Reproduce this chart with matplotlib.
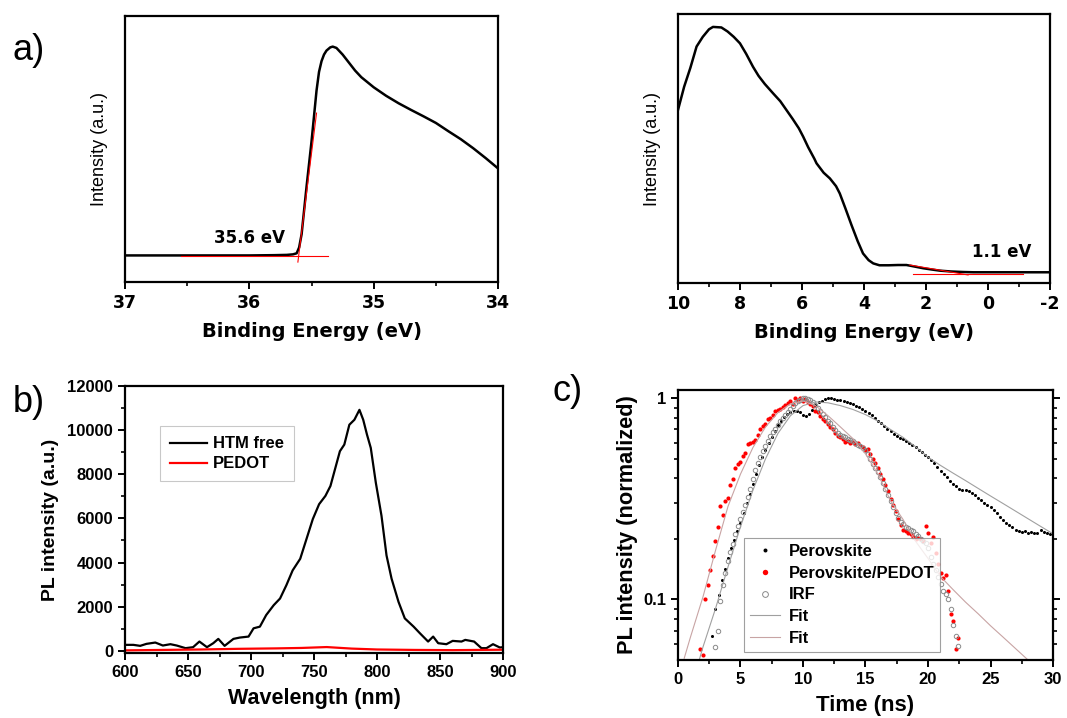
import numpy as np
import matplotlib.pyplot as plt
from matplotlib.ticker import MultipleLocator, FixedLocator, NullFormatter, FixedFormatter

plt.rcParams["axes.unicode_minus"] = False

# a) links: cut-off de electrones secundarios
be_cut = np.array([37.0, 36.5, 36.0, 35.8, 35.7, 35.65, 35.62, 35.6, 35.58, 35.56,
                   35.54, 35.52, 35.5, 35.48, 35.46, 35.44, 35.42, 35.4, 35.38, 35.35,
                   35.33, 35.3, 35.25, 35.2, 35.15, 35.1, 35.0, 34.9, 34.8, 34.7,
                   34.6, 34.5, 34.4, 34.3, 34.2, 34.1, 34.0])
int_cut = np.array([0.100, 0.100, 0.100, 0.101, 0.102, 0.104, 0.108, 0.130, 0.180, 0.270,
                    0.360, 0.445, 0.530, 0.625, 0.720, 0.790, 0.830, 0.855, 0.870, 0.882,
                    0.885, 0.880, 0.855, 0.825, 0.795, 0.770, 0.732, 0.700, 0.672, 0.647,
                    0.623, 0.598, 0.567, 0.537, 0.503, 0.466, 0.427])
cut_base_x = [36.55, 35.37]
cut_base_y = [0.097, 0.097]
cut_edge_x = [35.61, 35.46]
cut_edge_y = [0.075, 0.635]

# a) rechts: valence band
be_vb = np.array([10.0, 9.8, 9.6, 9.4, 9.2, 9.0, 8.87, 8.6, 8.4, 8.2,
                  8.0, 7.8, 7.58, 7.4, 7.2, 6.93, 6.7, 6.5, 6.3, 6.1,
                  5.96, 5.8, 5.6, 5.53, 5.3, 5.1, 4.9, 4.78, 4.6, 4.4,
                  4.2, 4.03, 3.85, 3.7, 3.5, 3.2, 2.9, 2.63, 2.4, 2.09,
                  1.8, 1.55, 1.2, 0.8, 0.47, 0.0, -1.0, -2.0])
int_vb = np.array([0.643, 0.730, 0.800, 0.879, 0.915, 0.943, 0.952, 0.950, 0.935, 0.915,
                   0.891, 0.852, 0.804, 0.770, 0.740, 0.705, 0.676, 0.643, 0.610, 0.575,
                   0.544, 0.505, 0.462, 0.445, 0.410, 0.389, 0.360, 0.333, 0.278, 0.215,
                   0.155, 0.110, 0.085, 0.073, 0.066, 0.066, 0.067, 0.067, 0.062, 0.055,
                   0.050, 0.046, 0.043, 0.041, 0.040, 0.040, 0.040, 0.040])
vb_base_x = [2.41, -1.14]
vb_base_y = [0.033, 0.033]
vb_edge_x = [2.52, 0.64]
vb_edge_y = [0.067, 0.030]

# b) PL spectra
wl = np.array([600, 606.6, 612, 617, 624, 630, 636, 641, 648, 654,
               659, 665, 670, 674, 679, 686, 691, 698, 702, 707,
               712, 718, 723, 728, 733, 739, 744, 749, 754, 759,
               763, 768, 770.5, 774, 778, 782, 786, 789, 792, 795,
               799, 803.5, 807.5, 811.5, 817, 822, 829, 834, 840.5, 844.5,
               848.5, 855, 860, 867, 870, 877, 882.8, 886.8, 892, 897.4, 900])
pl_htm = np.array([270, 270, 225, 315, 375, 240, 300, 240, 120, 165,
                   420, 165, 345, 540, 225, 540, 600, 645, 1020, 1095,
                   1620, 2070, 2370, 2970, 3645, 4170, 5070, 5970, 6645, 7020,
                   7470, 8520, 9045, 9345, 10245, 10470, 10920, 10470, 9795, 9195,
                   7620, 6120, 4320, 3270, 2220, 1470, 1095, 795, 420, 645,
                   345, 300, 450, 420, 495, 420, 120, 120, 300, 150, 165])
wl_pedot = np.array([600, 630, 660, 690, 720, 740, 760, 780, 800, 830, 860, 900])
pl_pedot = np.array([20, 40, 60, 90, 110, 130, 170, 100, 60, 40, 30, 50])

# c) TRPL (Zeitkanäle)
t_pero = np.arange(2.75, 30.01, 0.25)
y_pero = np.array([0.066, 0.090, 0.105, 0.125, 0.142, 0.160, 0.180, 0.198, 0.218, 0.240,
                   0.268, 0.300, 0.335, 0.375, 0.420, 0.465, 0.510, 0.555, 0.600, 0.645,
                   0.690, 0.735, 0.775, 0.810, 0.840, 0.860, 0.868, 0.865, 0.855, 0.830,
                   0.820, 0.835, 0.880, 0.925, 0.955, 0.975, 0.990, 1.000, 1.000, 0.995,
                   0.985, 0.980, 0.970, 0.960, 0.948, 0.935, 0.920, 0.905, 0.885, 0.870,
                   0.850, 0.825, 0.800, 0.775, 0.750, 0.725, 0.705, 0.685, 0.665, 0.650,
                   0.635, 0.625, 0.615, 0.600, 0.585, 0.570, 0.555, 0.540, 0.525, 0.510,
                   0.495, 0.478, 0.455, 0.435, 0.420, 0.405, 0.390, 0.377, 0.365, 0.356,
                   0.352, 0.350, 0.345, 0.340, 0.330, 0.320, 0.312, 0.303, 0.295, 0.288,
                   0.280, 0.270, 0.258, 0.248, 0.240, 0.235, 0.228, 0.222, 0.218, 0.216,
                   0.218, 0.215, 0.217, 0.214, 0.213, 0.222, 0.217, 0.214, 0.212, 0.208])

t_pedot = np.arange(1.8, 22.41, 0.2)
y_pedot = np.array([0.057, 0.053, 0.100, 0.118, 0.140, 0.165, 0.195, 0.228, 0.290, 0.262,
                    0.310, 0.318, 0.370, 0.395, 0.450, 0.470, 0.485, 0.515, 0.535, 0.590,
                    0.600, 0.610, 0.618, 0.660, 0.700, 0.730, 0.745, 0.790, 0.800, 0.830,
                    0.868, 0.875, 0.890, 0.905, 0.930, 0.950, 0.965, 0.940, 1.000, 0.985,
                    1.000, 0.975, 0.990, 0.955, 0.935, 0.920, 0.870, 0.860, 0.820, 0.790,
                    0.770, 0.745, 0.720, 0.700, 0.670, 0.650, 0.640, 0.625, 0.610, 0.612,
                    0.600, 0.605, 0.595, 0.600, 0.580, 0.570, 0.555, 0.560, 0.530, 0.500,
                    0.475, 0.450, 0.420, 0.395, 0.370, 0.345, 0.315, 0.295, 0.275, 0.250,
                    0.235, 0.222, 0.218, 0.215, 0.212, 0.205, 0.200, 0.203, 0.200, 0.196,
                    0.232, 0.215, 0.190, 0.205, 0.170, 0.150, 0.135, 0.128, 0.132, 0.110,
                    0.085, 0.078, 0.057, 0.064])

t_irf = np.arange(3.0, 22.41, 0.2)
y_irf = np.array([0.058, 0.070, 0.098, 0.118, 0.135, 0.155, 0.172, 0.188, 0.212, 0.232,
                  0.250, 0.272, 0.295, 0.325, 0.355, 0.395, 0.440, 0.475, 0.510, 0.545,
                  0.578, 0.615, 0.650, 0.680, 0.705, 0.735, 0.770, 0.800, 0.830, 0.860,
                  0.890, 0.915, 0.945, 0.965, 0.985, 1.000, 1.000, 0.995, 0.985, 0.955,
                  0.925, 0.900, 0.865, 0.835, 0.805, 0.775, 0.750, 0.720, 0.695, 0.675,
                  0.660, 0.650, 0.640, 0.630, 0.620, 0.612, 0.600, 0.588, 0.578, 0.565,
                  0.552, 0.530, 0.500, 0.472, 0.450, 0.428, 0.405, 0.380, 0.355, 0.330,
                  0.308, 0.288, 0.270, 0.255, 0.243, 0.236, 0.230, 0.226, 0.222, 0.218,
                  0.212, 0.206, 0.200, 0.195, 0.190, 0.180, 0.163, 0.150, 0.140, 0.130,
                  0.120, 0.110, 0.106, 0.100, 0.090, 0.075, 0.066, 0.059])

t_fit1 = np.array([1.7, 2, 3, 4, 5, 6, 7, 8, 9, 10, 11, 12, 13, 14, 15, 16, 17, 18,
                   19, 20, 21, 22, 23, 24, 25, 26, 27, 28, 29, 30])
y_fit1 = np.array([0.050, 0.058, 0.090, 0.145, 0.230, 0.350, 0.500, 0.670, 0.820, 0.920,
                   0.960, 0.950, 0.920, 0.880, 0.830, 0.770, 0.700, 0.640, 0.575, 0.510,
                   0.464, 0.425, 0.390, 0.357, 0.327, 0.300, 0.275, 0.252, 0.231, 0.212])
t_fit2 = np.array([0.5, 1, 2, 3, 4, 5, 6, 7, 8, 9, 10, 11, 12, 13, 14, 15, 16, 17,
                   18, 19, 20, 21, 22, 23, 24, 25, 26, 27, 28])
y_fit2 = np.array([0.051, 0.065, 0.103, 0.175, 0.290, 0.420, 0.570, 0.720, 0.850, 0.940,
                   0.970, 0.920, 0.820, 0.720, 0.630, 0.530, 0.420, 0.310, 0.250, 0.195,
                   0.160, 0.130, 0.112, 0.097, 0.085, 0.074, 0.065, 0.057, 0.050])

wide = "DejaVu Sans"
arial = "Liberation Sans"

fig = plt.figure(figsize=(10.67, 7.18), dpi=100)
ax1 = fig.add_axes([0.1172, 0.6072, 0.3496, 0.3705])
ax2 = fig.add_axes([0.6354, 0.6058, 0.3486, 0.3747])
ax3 = fig.add_axes([0.1172, 0.0905, 0.3543, 0.3719])
ax4 = fig.add_axes([0.6354, 0.0808, 0.3515, 0.3760])

for ax in (ax1, ax2, ax3, ax4):
    for s in ax.spines.values():
        s.set_linewidth(1.6)
    ax.tick_params(which="major", direction="out", length=5, width=1.4)
    ax.tick_params(which="minor", direction="out", length=3, width=1.2)

# --- a) links
ax1.plot(be_cut, int_cut, color="black", lw=1.8)
ax1.plot(cut_base_x, cut_base_y, color="red", lw=0.8)
ax1.plot(cut_edge_x, cut_edge_y, color="red", lw=0.8)
ax1.set_xlim(37, 34)
ax1.set_ylim(0, 1)
ax1.set_yticks([])
ax1.xaxis.set_major_locator(MultipleLocator(1))
ax1.xaxis.set_minor_locator(MultipleLocator(0.5))
ax1.text(36.0, 0.165, "35.6 eV", family=wide, weight="bold", fontsize=12, ha="center", va="center")
ax1.set_xlabel("Binding Energy (eV)", family=wide, weight="bold", fontsize=14, labelpad=7)
ax1.set_ylabel("Intensity (a.u.)", family=["Liberation Sans Narrow", arial], fontsize=13, labelpad=12)

# --- a) rechts
ax2.plot(be_vb, int_vb, color="black", lw=1.8)
ax2.plot(vb_base_x, vb_base_y, color="red", lw=0.8)
ax2.plot(vb_edge_x, vb_edge_y, color="red", lw=0.8)
ax2.set_xlim(10, -2)
ax2.set_ylim(0, 1)
ax2.set_yticks([])
ax2.xaxis.set_major_locator(MultipleLocator(2))
ax2.xaxis.set_minor_locator(MultipleLocator(1))
ax2.text(-0.44, 0.115, "1.1 eV", family=wide, weight="bold", fontsize=12, ha="center", va="center")
ax2.set_xlabel("Binding Energy (eV)", family=wide, weight="bold", fontsize=14, labelpad=7)
ax2.set_ylabel("Intensity (a.u.)", family=["Liberation Sans Narrow", arial], fontsize=13, labelpad=12)

for ax in (ax1, ax2):
    for lab in ax.get_xticklabels():
        lab.set_family(wide)
        lab.set_weight("bold")
        lab.set_fontsize(12.5)

# --- b)
ax3.plot(wl, pl_htm, color="black", lw=1.6, label="HTM free")
ax3.plot(wl_pedot, pl_pedot, color="red", lw=1.6, label="PEDOT")
ax3.set_xlim(600, 900)
ax3.set_ylim(-100, 12000)
ax3.xaxis.set_major_locator(MultipleLocator(50))
ax3.xaxis.set_minor_locator(MultipleLocator(25))
ax3.yaxis.set_major_locator(MultipleLocator(2000))
ax3.yaxis.set_minor_locator(MultipleLocator(1000))
ax3.set_xlabel("Wavelength (nm)", family=arial, weight="bold", fontsize=15.5, labelpad=6)
ax3.set_ylabel("PL intensity (a.u.)", family=arial, weight="bold", fontsize=14, labelpad=6)
leg3 = ax3.legend(loc="upper left", bbox_to_anchor=(0.07, 0.88), frameon=True, fancybox=False,
                  prop={"family": arial, "weight": "bold", "size": 12}, handlelength=2.2,
                  borderpad=0.6, labelspacing=0.3, handletextpad=0.4)
leg3.get_frame().set_edgecolor("#bbbbbb")
leg3.get_frame().set_linewidth(0.8)

# --- c)
ax4.set_yscale("log")
ax4.plot(t_pero, y_pero, "o", color="black", ms=2.2, mew=0, label="Perovskite")
ax4.plot(t_pedot, y_pedot, "o", color="red", ms=3, mew=0, label="Perovskite/PEDOT")
ax4.plot(t_irf, y_irf, "o", mfc="none", mec="#8a8a8a", ms=3.2, mew=0.7, label="IRF")
ax4.plot(t_fit1, y_fit1, color="#a0a0a0", lw=0.8, label="Fit")
ax4.plot(t_fit2, y_fit2, color="#c8a4a4", lw=0.8, label="Fit")
ax4.set_xlim(0, 30)
ax4.set_ylim(0.05, 1.1)
ax4.xaxis.set_major_locator(MultipleLocator(5))
ax4.xaxis.set_minor_locator(MultipleLocator(2.5))
ax4.yaxis.set_major_locator(FixedLocator([0.1, 1]))
ax4.yaxis.set_major_formatter(FixedFormatter(["0.1", "1"]))
ax4.yaxis.set_minor_locator(FixedLocator([0.06, 0.07, 0.08, 0.09, 0.2, 0.3, 0.4, 0.5, 0.6, 0.7, 0.8, 0.9]))
ax4.yaxis.set_minor_formatter(NullFormatter())
ax4.tick_params(axis="y", which="both", right=True)
ax4.set_xlabel("Time (ns)", family=arial, weight="bold", fontsize=16, labelpad=6)
ax4.set_ylabel("PL intensity (normalized)", family=arial, weight="bold", fontsize=15.7, labelpad=4)
leg4 = ax4.legend(loc="lower left", bbox_to_anchor=(0.155, 0.0), frameon=True, fancybox=False,
                  prop={"family": arial, "weight": "bold", "size": 12}, handlelength=1.8,
                  borderpad=0.35, labelspacing=0.4, handletextpad=0.5, markerscale=1.3)
leg4.get_frame().set_edgecolor("#888888")
leg4.get_frame().set_linewidth(0.8)

for ax in (ax3, ax4):
    for lab in ax.get_xticklabels() + ax.get_yticklabels():
        lab.set_family(arial)
        lab.set_weight("bold")
        lab.set_fontsize(12)

fig.text(0.012, 0.93, "a)", fontsize=26, family=arial, va="center")
fig.text(0.012, 0.44, "b)", fontsize=26, family=arial, va="center")
fig.text(0.518, 0.455, "c)", fontsize=26, family=arial, va="center")

fig.savefig("out.png", dpi=100)
